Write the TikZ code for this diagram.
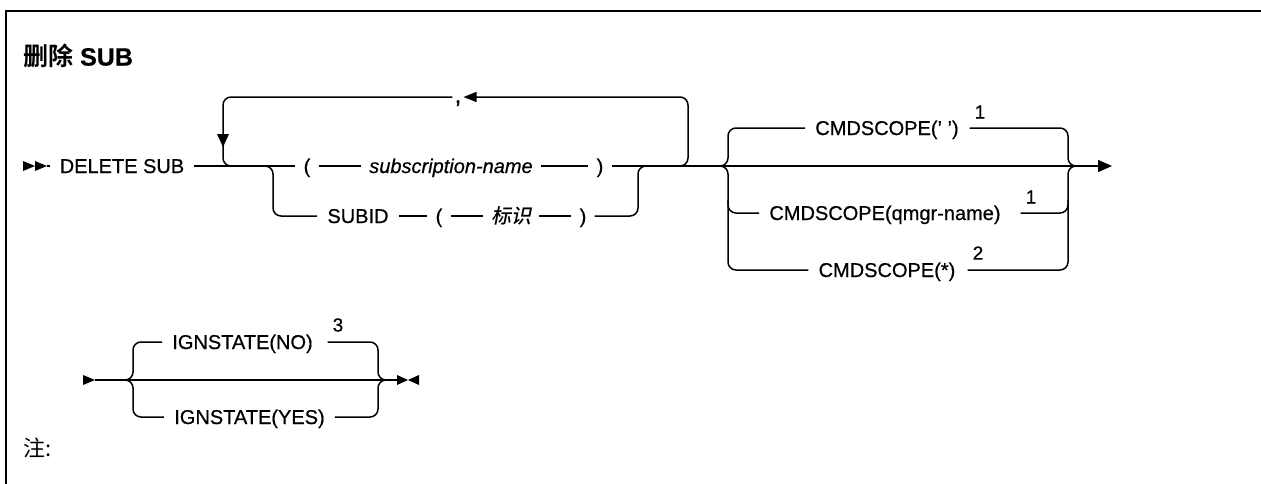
\documentclass[tikz,border=0pt]{standalone}
\usepackage{fontspec}
\setmainfont{Liberation Sans}[FakeBold=0.6]
\newfontfamily\cjk{Noto Sans CJK SC}[BoldFont={Noto Sans CJK SC Bold}]
\newfontfamily\cjkit{Noto Sans CJK SC Medium}[FakeSlant=0.2]
\usetikzlibrary{arrows.meta}
\begin{document}
\begin{tikzpicture}[x=1pt,y=-1pt,
  rail/.style={line width=1.5pt, rounded corners=8pt},
  lab/.style={font=\fontsize{20}{24}\selectfont, inner xsep=10pt, inner ysep=0pt, text height=14pt, text depth=0pt},
  tok/.style={lab, inner xsep=8pt},
  supn/.style={font=\fontsize{19}{21}\selectfont, inner sep=0pt},
  tip/.style={fill=black}]
\useasboundingbox (0,0) rectangle (1261,483);
% frame
\draw[line width=2pt] (6,500) -- (6,11) -- (1280,11);
% title
\node[anchor=west, inner sep=0pt] (title) at (23,56) {\fontsize{25}{28}\selectfont{\cjk\bfseries 删除} \bfseries SUB};
% ---- first diagram ----
\fill[tip] (23,161) -- (35,166) -- (23,171) -- cycle;
\fill[tip] (35,161) -- (47,166) -- (35,171) -- cycle;
\coordinate (st) at (47,166);
\node[lab] (del) at (122,166) {DELETE SUB};
\node[tok] (lp1) at (307,166) {(};
\node[tok] (sn) at (451,166) {\itshape subscription-name};
\node[tok] (rp1) at (600,166) {)};
\node[lab] (sid) at (358,216) {SUBID};
\node[tok] (lp2) at (439,216) {(};
\node[tok] (bs) at (511,216) {\cjkit 标识};
\node[tok] (rp2) at (583,216) {)};
\node[inner xsep=2pt, inner ysep=0pt, font=\fontsize{24}{26}\selectfont, text height=14pt, text depth=0pt] (cm) at (458,96) {,};
\draw[rail] (st) -- (del.west);
\draw[rail] (del.east) -- (lp1.west);
\draw[rail] (lp1.east) -- (sn.west);
\draw[rail] (sn.east) -- (rp1.west);
% branch SUBID
\draw[rail] (258,166) -- (273,166) -- (273,216) -- (sid.west);
\draw[rail] (sid.east) -- (lp2.west);
\draw[rail] (lp2.east) -- (bs.west);
\draw[rail] (bs.east) -- (rp2.west);
\draw[rail] (rp2.east) -- (638,216) -- (638,166) -- (655,166);
% repeat loop
\draw[rail, -{Triangle[length=13pt,width=10pt]}] (670,166) -- (688,166) -- (688,97) -- (cm.east |- 0,97);
\draw[rail] (cm.west |- 0,97) -- (223,97) -- (223,166) -- (245,166);
\fill[tip] (217,134) -- (229,134) -- (223,147) -- cycle;
% CMDSCOPE block
\node[lab] (c1) at (887,128) {CMDSCOPE(' ')};
\node[lab] (c2) at (885,213) {CMDSCOPE(qmgr-name)};
\node[lab] (c3) at (887,270) {CMDSCOPE(*)};
\node[supn] (s1) at (980,112) {1};
\node[supn] (s2) at (1031,197) {1};
\node[supn] (s3) at (978,253) {2};
\draw[rail, -{Triangle[length=14pt,width=12pt]}] (rp1.east) -- (1112,166);
\draw[rail] (714,166) -- (728,166) -- (728,128) -- (c1.west);
\draw[rail] (714,166) -- (728,166) -- (728,270) -- (c3.west);
\draw[rail] (728,200) -- (728,213) -- (c2.west);
\draw[rail] ([xshift=-5pt]s1.west |- c1.east) -- (1068,128) -- (1068,166) -- (1082,166);
\draw[rail] ([xshift=-5pt]s2.west |- c2.east) -- (1068,213) -- (1068,200);
\draw[rail] ([xshift=-5pt]s3.west |- c3.east) -- (1068,270) -- (1068,166) -- (1082,166);
% ---- second diagram ----
\fill[tip] (83,375) -- (95,380) -- (83,385) -- cycle;
\coordinate (st2) at (95,380);
\coordinate (en2) at (397,380);
\node[lab] (i1) at (242.5,342) {IGNSTATE(NO)};
\node[lab] (i2) at (249.5,417) {IGNSTATE(YES)};
\node[supn] (s4) at (338,325) {3};
\draw[rail] (st2) -- (en2);
\draw[rail] (119,380) -- (133,380) -- (133,342) -- (i1.west);
\draw[rail] (119,380) -- (133,380) -- (133,417) -- (i2.west);
\draw[rail] ([xshift=-5pt]s4.west |- i1.east) -- (378,342) -- (378,380) -- (392,380);
\draw[rail] (i2.east) -- (378,417) -- (378,380) -- (392,380);
\fill[tip] (397,375) -- (408,380) -- (397,385) -- cycle;
\fill[tip] (419,375) -- (408,380) -- (419,385) -- cycle;
% note
\node[anchor=west, inner sep=0pt, font=\fontsize{22}{24}\selectfont] (note) at (23,448) {\cjk 注:};
\end{tikzpicture}
\end{document}
